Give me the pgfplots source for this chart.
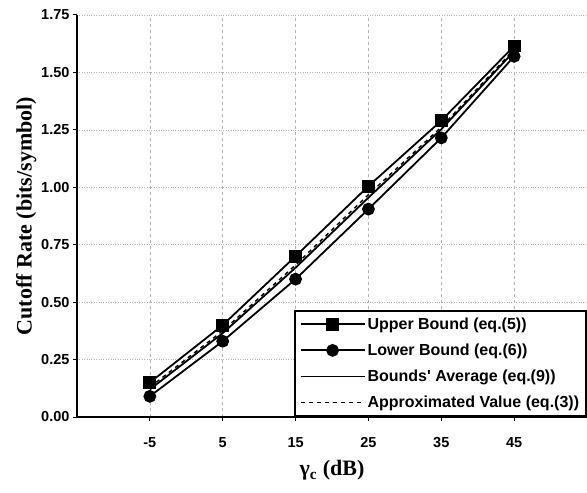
\documentclass[border=0pt]{standalone}
\usepackage{fontspec}
\setmainfont{Liberation Serif}
\newfontfamily\arial{Liberation Sans}
\usepackage{pgfplots}
\pgfplotsset{compat=1.18}

\pgfplotstableread{
x    up     lo     avg     apx
-5   0.150  0.090  0.120   0.130
5    0.400  0.330  0.365   0.375
15   0.700  0.600  0.650   0.662
25   1.005  0.905  0.955   0.968
35   1.290  1.215  1.2525  1.262
45   1.615  1.570  1.5925  1.600
}\data

\begin{document}
\begin{tikzpicture}
\begin{axis}[
    scale only axis,
    width=510pt, height=402pt,
    xmin=-15, xmax=55,
    ymin=0, ymax=1.75,
    axis lines*=left,
    axis line style={line width=1.8pt},
    xtick={-5,5,15,25,35,45},
    ytick={0,0.25,0.5,0.75,1,1.25,1.5,1.75},
    tick align=outside,
    major tick length=4pt,
    tick style={line width=1pt, black},
    ticklabel style={font=\arial\bfseries\fontsize{14.5}{16}\selectfont},
    /pgf/number format/assume math mode=true,
    yticklabel style={/pgf/number format/.cd, fixed, fixed zerofill, precision=2},
    xticklabel style={yshift=-13pt},
    grid=major,
    x grid style={gray!60, dashed, line width=0.5pt},
    y grid style={gray!60, dotted, line width=0.6pt},
    xlabel={\textbf{γ\textsubscript{c} (dB)}},
    ylabel={\textbf{Cutoff Rate (bits/symbol)}},
    label style={font=\fontsize{22}{24}\selectfont},
    xlabel style={yshift=-6pt},
    ylabel style={yshift=-2pt},
    legend style={at={(1,0)}, anchor=south east, draw=black, line width=1.8pt,
        font=\arial\bfseries\fontsize{16}{18}\selectfont,
        cells={anchor=west}, row sep=9pt, inner xsep=5pt, inner ysep=5pt},
    legend image code/.code={\draw[mark repeat=2,mark phase=2,#1] plot coordinates {(0pt,0pt) (32pt,0pt) (64pt,0pt)};},
]
\coordinate (sw) at (rel axis cs:0,0);
\coordinate (ne) at (rel axis cs:1,1);
\addplot[black, line width=1.8pt, mark=square*, mark size=5.5pt, mark options={solid}] table[x=x,y=up] {\data};
\addlegendentry{Upper Bound (eq.(5))}
\addplot[black, line width=1.8pt, mark=*, mark size=5.5pt, mark options={solid}] table[x=x,y=lo] {\data};
\addlegendentry{Lower Bound (eq.(6))}
\addplot[black, line width=1.8pt] table[x=x,y=avg] {\data};
\addlegendentry{Bounds' Average (eq.(9))}
\addplot[black, line width=1.4pt, dash pattern=on 4pt off 4pt] table[x=x,y=apx] {\data};
\addlegendentry{Approximated Value (eq.(3))}
\end{axis}
\pgfresetboundingbox
\path ([shift={(-77pt,-75pt)}]sw) rectangle ([shift={(0pt,15pt)}]ne);
\end{tikzpicture}
\end{document}
